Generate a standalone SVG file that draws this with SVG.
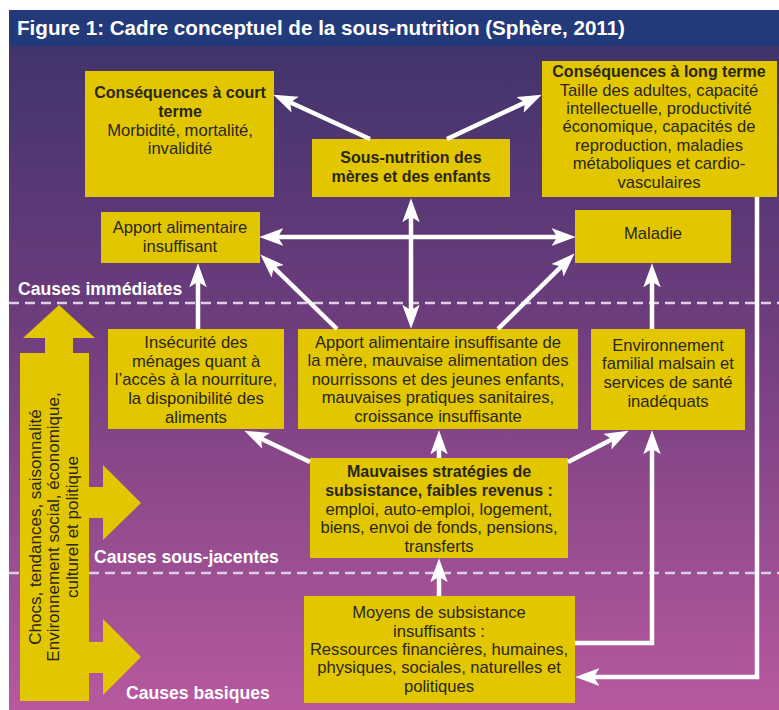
<svg xmlns="http://www.w3.org/2000/svg" width="779" height="710" viewBox="0 0 779 710">
<defs>
<linearGradient id="bg" gradientUnits="userSpaceOnUse" x1="0" y1="46" x2="0" y2="710">
<stop offset="0" stop-color="#41346a"/>
<stop offset="0.4" stop-color="#6c3c7d"/>
<stop offset="1" stop-color="#b8599f"/>
</linearGradient>
<marker id="ah" markerUnits="userSpaceOnUse" markerWidth="24" markerHeight="18" viewBox="0 0 22 16" refX="14" refY="8" orient="auto-start-reverse">
<path d="M0,0 L22,8 L0,16 L5,8 z" fill="#ffffff"/>
</marker>
<style>
.box{fill:#e2c600}
.t{font-family:"Liberation Sans",Arial,sans-serif;font-size:16.6px;fill:#2a2616;text-anchor:middle}
.b{font-weight:bold;font-size:16px}
.v{font-size:17px}
.lbl{font-family:"Liberation Sans",Arial,sans-serif;font-size:17.6px;font-weight:bold;fill:#ffffff}
.conn{fill:none;stroke:#ffffff;stroke-width:4.5}
.dash{stroke:#ddd0e6;stroke-width:2.5;stroke-dasharray:10 6}
</style>
</defs>
<rect x="0" y="0" width="779" height="710" fill="#ffffff"/>
<rect x="9" y="46" width="770" height="664" fill="url(#bg)"/>
<g id="title">
<rect x="9" y="10" width="770" height="36" fill="#233a7a"/>
<text x="17" y="35" font-family="'Liberation Sans',Arial,sans-serif" font-size="20" font-weight="bold" fill="#ffffff" textLength="608" lengthAdjust="spacingAndGlyphs">Figure 1: Cadre conceptuel de la sous-nutrition (Sphère, 2011)</text>
</g>
<g id="levels">
<line class="dash" x1="9" y1="303" x2="779" y2="303"/>
<line class="dash" x1="9" y1="573" x2="779" y2="573"/>
<text class="lbl" x="18" y="295">Causes immédiates</text>
<text class="lbl" x="94" y="563">Causes sous-jacentes</text>
<text class="lbl" x="126" y="699">Causes basiques</text>
</g>
<g id="contexte">
<path class="box" d="M20,701 L20,353 L45,353 L45,338 L23,338 L59,305 L95,338 L73,338 L73,353 L89,353 L89,487 L103,487 L103,465 L141,503 L103,540 L103,518 L89,518 L89,642 L103,642 L103,619 L141,657 L103,695 L103,673 L89,673 L89,701 z"/>
<g transform="translate(0,527) rotate(-90)">
<text class="t v" x="0" y="41">Chocs, tendances, saisonnalité</text>
<text class="t v" x="0" y="59">Environnement social, économique,</text>
<text class="t v" x="0" y="78">culturel et politique</text>
</g>
</g>
<g id="court-terme">
<rect class="box" x="85" y="71" width="189" height="126"/>
<text class="t b" x="180" y="98">Conséquences à court</text>
<text class="t b" x="180" y="117">terme</text>
<text class="t" x="180" y="136">Morbidité, mortalité,</text>
<text class="t" x="180" y="154">invalidité</text>
</g>
<g id="sous-nutrition">
<rect class="box" x="312" y="139" width="198" height="58"/>
<text class="t b" x="411" y="163">Sous-nutrition des</text>
<text class="t b" x="411" y="182">mères et des enfants</text>
</g>
<g id="long-terme">
<rect class="box" x="542" y="61" width="235" height="136"/>
<text class="t b" x="659" y="77">Conséquences à long terme</text>
<text class="t" x="659" y="96">Taille des adultes, capacité</text>
<text class="t" x="659" y="114">intellectuelle, productivité</text>
<text class="t" x="659" y="132">économique, capacités de</text>
<text class="t" x="659" y="151">reproduction, maladies</text>
<text class="t" x="659" y="169">métaboliques et cardio-</text>
<text class="t" x="659" y="188">vasculaires</text>
</g>
<g id="apport-insuffisant">
<rect class="box" x="101" y="212" width="159" height="51"/>
<text class="t" x="180" y="233">Apport alimentaire</text>
<text class="t" x="180" y="252">insuffisant</text>
</g>
<g id="maladie">
<rect class="box" x="575" y="210" width="156" height="53"/>
<text class="t" x="653" y="239">Maladie</text>
</g>
<g id="insecurite">
<rect class="box" x="108" y="329" width="176" height="100"/>
<text class="t" x="196" y="348">Insécurité des</text>
<text class="t" x="196" y="367">ménages quant à</text>
<text class="t" x="196" y="385">l’accès à la nourriture,</text>
<text class="t" x="196" y="404">la disponibilité des</text>
<text class="t" x="196" y="423">aliments</text>
</g>
<g id="apport-mere">
<rect class="box" x="298" y="329" width="280" height="100"/>
<text class="t" x="438" y="348">Apport alimentaire insuffisante de</text>
<text class="t" x="438" y="366">la mère, mauvaise alimentation des</text>
<text class="t" x="438" y="385">nourrissons et des jeunes enfants,</text>
<text class="t" x="438" y="403">mauvaises pratiques sanitaires,</text>
<text class="t" x="438" y="422">croissance insuffisante</text>
</g>
<g id="environnement">
<rect class="box" x="591" y="329" width="154" height="101"/>
<text class="t" x="668" y="351">Environnement</text>
<text class="t" x="668" y="369">familial malsain et</text>
<text class="t" x="668" y="388">services de santé</text>
<text class="t" x="668" y="407">inadéquats</text>
</g>
<g id="strategies">
<rect class="box" x="310" y="458" width="258" height="100"/>
<text class="t b" x="439" y="477">Mauvaises stratégies de</text>
<text class="t b" x="439" y="496">subsistance, faibles revenus :</text>
<text class="t" x="439" y="515">emploi, auto-emploi, logement,</text>
<text class="t" x="439" y="533">biens, envoi de fonds, pensions,</text>
<text class="t" x="439" y="552">transferts</text>
</g>
<g id="moyens">
<rect class="box" x="304" y="596" width="271" height="107"/>
<text class="t" x="439" y="618">Moyens de subsistance</text>
<text class="t" x="439" y="637">insuffisants :</text>
<text class="t" x="439" y="655">Ressources financières, humaines,</text>
<text class="t" x="439" y="673">physiques, sociales, naturelles et</text>
<text class="t" x="439" y="692">politiques</text>
</g>
<g id="connectors">
<line class="conn" x1="370" y1="139" x2="281.3" y2="98.3" marker-end="url(#ah)"/>
<line class="conn" x1="447" y1="139" x2="533.8" y2="98.4" marker-end="url(#ah)"/>
<line class="conn" x1="268" y1="237" x2="567" y2="237" marker-start="url(#ah)" marker-end="url(#ah)"/>
<line class="conn" x1="411" y1="207" x2="411" y2="320" marker-start="url(#ah)" marker-end="url(#ah)"/>
<line class="conn" x1="337" y1="329" x2="266.7" y2="260.6" marker-end="url(#ah)"/>
<line class="conn" x1="498" y1="329" x2="568.3" y2="259.6" marker-end="url(#ah)"/>
<line class="conn" x1="198" y1="329" x2="198" y2="272" marker-end="url(#ah)"/>
<line class="conn" x1="652" y1="329" x2="652" y2="272" marker-end="url(#ah)"/>
<line class="conn" x1="310" y1="462" x2="252.2" y2="434.4" marker-end="url(#ah)"/>
<line class="conn" x1="439" y1="458" x2="439" y2="439" marker-end="url(#ah)"/>
<line class="conn" x1="568" y1="462" x2="620.9" y2="434.7" marker-end="url(#ah)"/>
<line class="conn" x1="439" y1="596" x2="439" y2="567" marker-end="url(#ah)"/>
<polyline class="conn" points="575,643 652,643 652,439" marker-end="url(#ah)"/>
<polyline class="conn" points="757,197 757,677 584,677" marker-end="url(#ah)"/>
</g>
</svg>
